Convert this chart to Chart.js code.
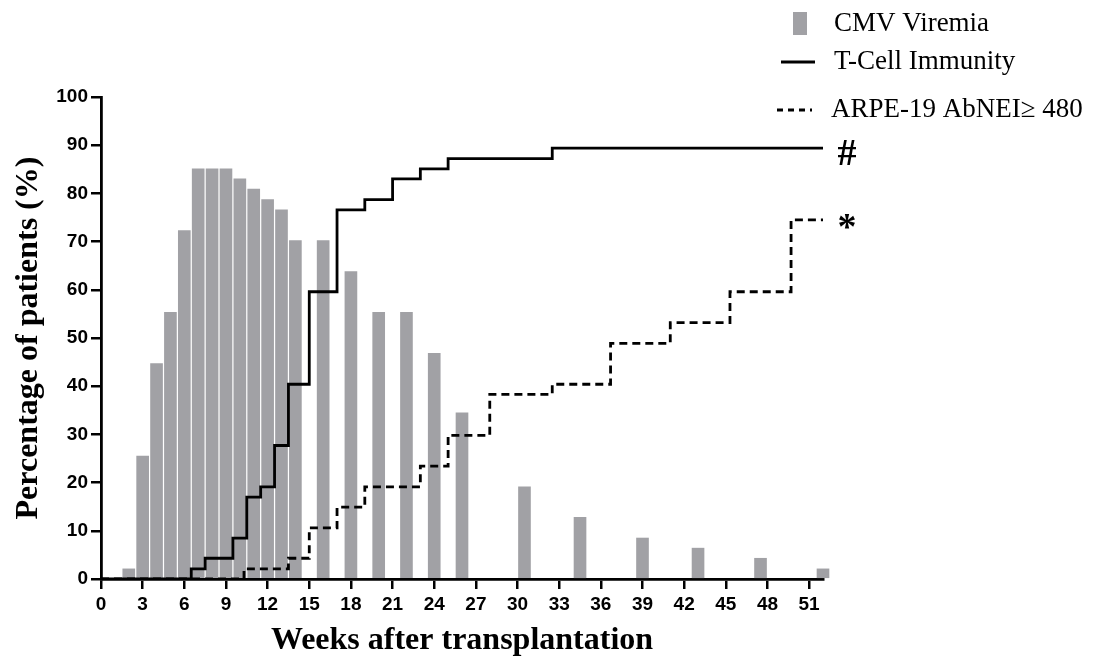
<!DOCTYPE html>
<html>
<head>
<meta charset="utf-8">
<title>CMV viremia vs immunity</title>
<script src="https://cdn.jsdelivr.net/npm/chart.js@4.4.1/dist/chart.umd.min.js"></script>
<style>
    html, body { margin: 0; padding: 0; background: #ffffff; }
    #chart { display: block; }
</style>
</head>
<body>
<canvas id="chart" width="1094" height="666"></canvas>
<script>
// CMV viremia (bars), week after transplantation -> % of patients
const viremiaWeeks = [2, 3, 4, 5, 6, 7, 8, 9, 10, 11, 12, 13, 14, 16, 18, 20, 22, 24, 26, 30.5, 34.5, 39, 43, 47.5, 52];
const viremiaPct = [2.1, 25.5, 44.7, 55.3, 72.3, 85.1, 85.1, 85.1, 83.0, 80.9, 78.7, 76.6, 70.2, 70.2, 63.8, 55.3, 55.3, 46.8, 34.5, 19.1, 12.8, 8.5, 6.4, 4.3, 2.1];

// T-cell immunity (step curve)
const tcellWeeks = [0, 6.5, 7.5, 9.5, 10.5, 11.5, 12.5, 13.5, 15, 17, 19, 21, 23, 25, 32.5, 52];
const tcellPct = [0, 2.1, 4.3, 8.5, 17.0, 19.1, 27.7, 40.4, 59.6, 76.6, 78.7, 83.0, 85.1, 87.2, 89.4, 89.4];

// ARPE-19 AbNEI >= 480 (dashed step curve)
const arpeWeeks = [0, 10.3, 13.5, 15, 17, 19, 23, 25, 28, 32.5, 36.7, 41, 45.3, 49.7, 52];
const arpePct = [0, 2.1, 4.3, 10.6, 14.9, 19.1, 23.4, 29.8, 38.3, 40.4, 48.9, 53.2, 59.6, 74.5, 74.5];

// labels
const seriesNames = ['CMV Viremia', 'T-Cell Immunity', 'ARPE-19 AbNEI\u2265 480'];
const endMarks = ['#', '*'];

const toPoints = (xs, ys) => xs.map((x, i) => ({ x: x, y: ys[i] }));

const sansBold = '"Liberation Sans", Arial, sans-serif';
const serif = '"Liberation Serif", "Times New Roman", serif';

// 图例和曲线末端标记
const extrasPlugin = {
    id: 'extras',
    afterDraw(chart) {
        const ctx = chart.ctx;
        const ds = chart.data.datasets;
        const yScale = chart.scales.y;
        ctx.save();

        // legend
        ctx.font = '27px ' + serif;
        ctx.textAlign = 'left';
        ctx.textBaseline = 'middle';

        ctx.fillStyle = ds[2].backgroundColor;
        ctx.fillRect(793, 12, 14, 23);
        ctx.fillStyle = '#000';
        ctx.fillText(seriesNames[0], 834, 24);

        ctx.strokeStyle = '#000';
        ctx.lineWidth = 2.8;
        ctx.beginPath();
        ctx.moveTo(781, 62);
        ctx.lineTo(815, 62);
        ctx.stroke();
        ctx.fillText(seriesNames[1], 834, 62);

        ctx.setLineDash([6, 5]);
        ctx.beginPath();
        ctx.moveTo(777, 110);
        ctx.lineTo(812, 110);
        ctx.stroke();
        ctx.setLineDash([]);
        ctx.fillText(seriesNames[2], 831, 110);

        // # and * next to the curve ends
        ctx.font = 'bold 38px ' + serif;
        ctx.textAlign = 'center';
        ctx.textBaseline = 'alphabetic';
        const xMark = chart.chartArea.right + 24;
        const tLast = ds[0].data[ds[0].data.length - 1].y;
        const aLast = ds[1].data[ds[1].data.length - 1].y;
        ctx.fillText(endMarks[0], xMark, yScale.getPixelForValue(tLast) + 17);
        ctx.fillText(endMarks[1], xMark, yScale.getPixelForValue(aLast) + 19);

        ctx.restore();
    }
};

const ctx = document.getElementById('chart').getContext('2d');
const chart = new Chart(ctx, {
    type: 'bar',
    data: {
        datasets: [
            {
                type: 'line',
                label: seriesNames[1],
                data: toPoints(tcellWeeks, tcellPct),
                stepped: 'before',
                borderColor: '#000000',
                borderWidth: 2.8,
                pointRadius: 0,
                fill: false,
                order: 1
            },
            {
                type: 'line',
                label: seriesNames[2],
                data: toPoints(arpeWeeks, arpePct),
                stepped: 'before',
                borderColor: '#000000',
                borderWidth: 2.8,
                borderDash: [8, 5],
                pointRadius: 0,
                fill: false,
                order: 1
            },
            {
                type: 'bar',
                label: seriesNames[0],
                data: toPoints(viremiaWeeks, viremiaPct),
                backgroundColor: '#a1a1a5',
                borderWidth: 0,
                barThickness: 12,
                clip: false,
                order: 2
            }
        ]
    },
    options: {
        responsive: false,
        animation: false,
        layout: {
            padding: { top: 97, right: 271, bottom: 0, left: 0 }
        },
        plugins: {
            legend: { display: false },
            tooltip: { enabled: false }
        },
        scales: {
            x: {
                type: 'linear',
                min: 0,
                max: 52,
                offset: false,
                afterFit: (scale) => { scale.height = 87; },
                border: { display: true, color: '#000', width: 2.8 },
                grid: {
                    offset: false,
                    drawOnChartArea: false,
                    drawTicks: true,
                    tickLength: 10,
                    tickColor: '#000',
                    tickWidth: 2.5,
                    lineWidth: 2.5,
                    color: '#000'
                },
                ticks: {
                    stepSize: 3,
                    includeBounds: false,
                    autoSkip: false,
                    maxRotation: 0,
                    padding: 4,
                    color: '#000',
                    font: { family: sansBold, size: 19, weight: 'bold' }
                },
                title: {
                    display: true,
                    text: 'Weeks after transplantation',
                    color: '#000',
                    padding: { top: 0, bottom: 6 },
                    font: { family: serif, size: 32, weight: 'bold' }
                }
            },
            y: {
                min: 0,
                max: 100,
                afterFit: (scale) => { scale.width = 101; },
                border: { display: true, color: '#000', width: 2.8 },
                grid: {
                    drawOnChartArea: false,
                    drawTicks: true,
                    tickLength: 10,
                    tickColor: '#000',
                    tickWidth: 2.5,
                    lineWidth: 2.5,
                    color: '#000'
                },
                ticks: {
                    stepSize: 10,
                    padding: 3,
                    color: '#000',
                    font: { family: sansBold, size: 19, weight: 'bold' }
                },
                title: {
                    display: true,
                    text: 'Percentage of patients (%)',
                    color: '#000',
                    padding: { top: 10, bottom: 0 },
                    font: { family: serif, size: 32, weight: 'bold' }
                }
            }
        }
    },
    plugins: [extrasPlugin]
});
</script>
</body>
</html>
